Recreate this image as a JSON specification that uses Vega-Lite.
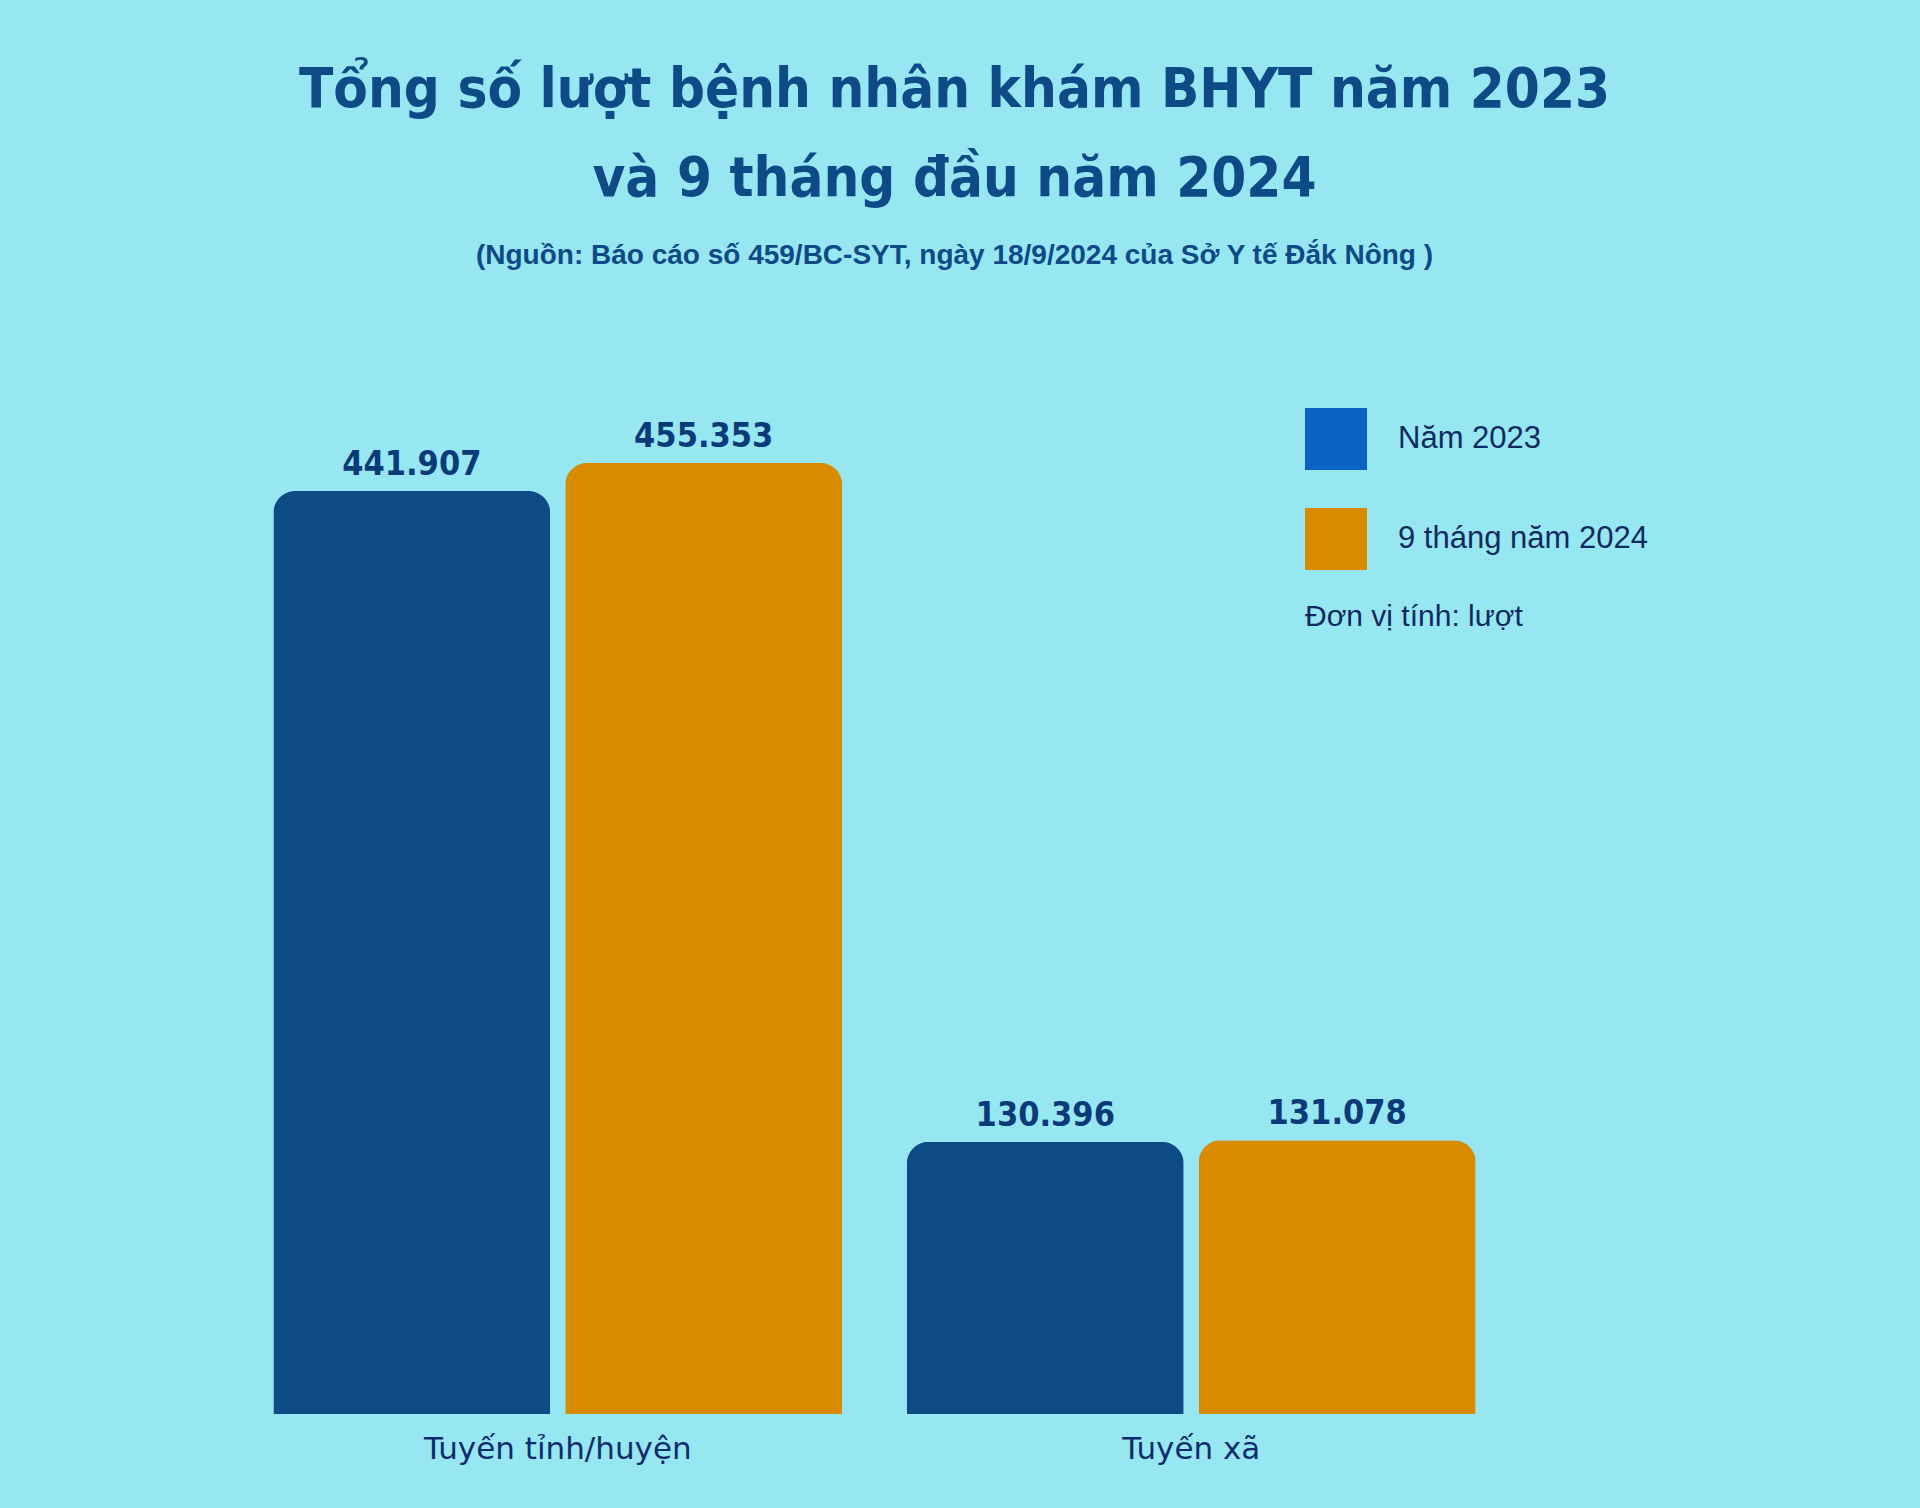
{
  "$schema": "https://vega.github.io/schema/vega-lite/v6.json",
  "autosize": {"type": "none"},
  "width": 1329,
  "height": 1114,
  "padding": {"left": 210, "top": 300, "right": 381, "bottom": 94},
  "background": "#97e7f3",
  "config": {"view": {"stroke": null}},
  "title": {
    "text": ["Tổng số lượt bệnh nhân khám BHYT năm 2023", "và 9 tháng đầu năm 2024"],
    "subtitle": "(Nguồn: Báo cáo số 459/BC-SYT, ngày 18/9/2024 của Sở Y tế Đắk Nông )",
    "anchor": "middle",
    "frame": "group",
    "dx": 80,
    "offset": 29,
    "font": "'DejaVu Sans Condensed', 'Liberation Sans Narrow', sans-serif",
    "fontSize": 56,
    "fontWeight": "bold",
    "color": "#0e4a86",
    "lineHeight": 89,
    "subtitleFont": "Liberation Sans",
    "subtitleFontSize": 28,
    "subtitleFontWeight": "bold",
    "subtitleColor": "#0e4a86",
    "subtitlePadding": 34
  },
  "data": {
    "values": [
      {"tuyen": "Tuyến tỉnh/huyện", "ky": "Năm 2023", "luot": 441907, "nhan": "441.907"},
      {"tuyen": "Tuyến tỉnh/huyện", "ky": "9 tháng năm 2024", "luot": 455353, "nhan": "455.353"},
      {"tuyen": "Tuyến xã", "ky": "Năm 2023", "luot": 130396, "nhan": "130.396"},
      {"tuyen": "Tuyến xã", "ky": "9 tháng năm 2024", "luot": 131078, "nhan": "131.078"}
    ]
  },
  "encoding": {
    "x": {
      "field": "tuyen",
      "type": "nominal",
      "sort": ["Tuyến tỉnh/huyện", "Tuyến xã"],
      "scale": {"paddingInner": 0.102, "paddingOuter": 0.1},
      "axis": {
        "title": null,
        "domain": false,
        "ticks": false,
        "labelAngle": 0,
        "labelFont": "DejaVu Sans",
        "labelFontSize": 31,
        "labelColor": "#0c2d6b",
        "labelPadding": 20,
        "labelBaseline": "top",
        "labelLimit": 800
      }
    },
    "xOffset": {
      "field": "ky",
      "type": "nominal",
      "sort": ["Năm 2023", "9 tháng năm 2024"],
      "scale": {"paddingInner": 0.0514, "paddingOuter": 0}
    },
    "y": {
      "field": "luot",
      "type": "quantitative",
      "scale": {"domain": [0, 533340], "nice": false, "zero": true},
      "axis": null
    }
  },
  "layer": [
    {
      "transform": [{"filter": "datum.luot < 0"}],
      "mark": {"type": "bar"},
      "encoding": {
        "fill": {
          "field": "ky",
          "type": "nominal",
          "scale": {"domain": ["Năm 2023", "9 tháng năm 2024"], "range": ["#0c64c2", "#d98b00"]},
          "legend": {
            "orient": "none",
            "legendX": 1095,
            "legendY": 108,
            "padding": 0,
            "title": "Đơn vị tính: lượt",
            "titleOrient": "bottom",
            "titleAnchor": "start",
            "titleFont": "Liberation Sans",
            "titleFontSize": 30,
            "titleFontWeight": "normal",
            "titleColor": "#0e2a5e",
            "titlePadding": 32,
            "titleLimit": 600,
            "symbolType": "square",
            "symbolSize": 3844,
            "symbolStrokeWidth": 0,
            "symbolOpacity": 1,
            "rowPadding": 38,
            "labelOffset": 30,
            "labelFont": "Liberation Sans",
            "labelFontSize": 31,
            "labelColor": "#0e2a5e",
            "labelLimit": 600,
            "labelBaseline": "middle",
            "labelOffset": 31
          }
        }
      }
    },
    {
      "mark": {"type": "bar", "cornerRadiusTopLeft": 22, "cornerRadiusTopRight": 22},
      "encoding": {
        "color": {
          "field": "ky",
          "type": "nominal",
          "scale": {"domain": ["Năm 2023", "9 tháng năm 2024"], "range": ["#0e4a86", "#d98b00"]},
          "legend": null
        }
      }
    },
    {
      "mark": {
        "type": "text",
        "baseline": "alphabetic",
        "align": "center",
        "dy": -16,
        "font": "'DejaVu Sans Condensed', 'Liberation Sans Narrow', sans-serif",
        "fontSize": 34,
        "fontWeight": "bold",
        "color": "#0b3a78"
      },
      "encoding": {"text": {"field": "nhan"}}
    }
  ]
}
